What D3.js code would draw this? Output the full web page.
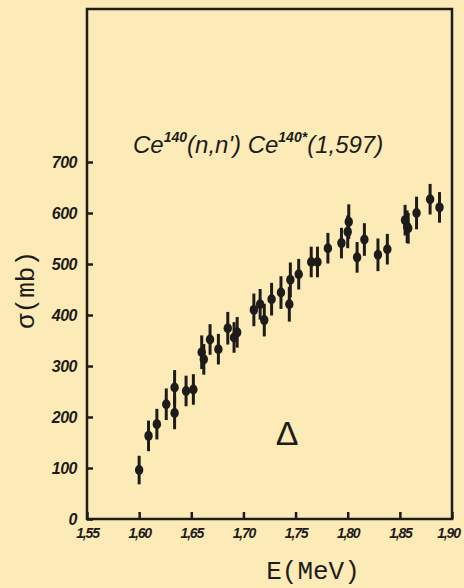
<!DOCTYPE html>
<html>
<head>
<meta charset="utf-8">
<script src="https://cdn.jsdelivr.net/npm/d3@7"></script>
<style>
  body { margin: 0; background: #fcebb6; }
  svg { display: block; }
</style>
</head>
<body>
<div id="chart"></div>
<script>
// Ce140(n,n') excitation data
const energy = [1.600, 1.609, 1.617, 1.626, 1.634, 1.634, 1.645, 1.652, 1.660, 1.662,
  1.668, 1.676, 1.685, 1.691, 1.694, 1.710, 1.716, 1.720, 1.727, 1.736,
  1.744, 1.745, 1.753, 1.765, 1.771, 1.781, 1.794, 1.800, 1.801, 1.809,
  1.816, 1.829, 1.838, 1.855, 1.857, 1.858, 1.866, 1.879, 1.888];
const sigma = [96, 163, 186, 225, 258, 208, 251, 254, 327, 313,
  352, 333, 374, 356, 366, 410, 421, 390, 431, 444,
  421, 469, 480, 504, 504, 531, 541, 563, 583, 513,
  548, 518, 529, 586, 573, 570, 600, 627, 611];
const sigmaErr = [28, 30, 30, 31, 34, 32, 30, 30, 33, 30,
  30, 30, 32, 30, 30, 32, 30, 32, 32, 32,
  34, 34, 30, 30, 30, 30, 30, 32, 34, 30,
  32, 32, 30, 30, 32, 30, 32, 30, 30];

const xTicks = [1.55, 1.60, 1.65, 1.70, 1.75, 1.80, 1.85, 1.90];
const yTicks = [0, 100, 200, 300, 400, 500, 600, 700];

const W = 464, H = 588;
const ink = "#1e1c1a";

const svg = d3.select("#chart")
  .append("svg")
  .attr("width", W)
  .attr("height", H);

svg.append("rect").attr("width", W).attr("height", H).attr("fill", "#fcebb6");

const x = d3.scaleLinear().domain([1.55, 1.90]).range([87, 452]);
const y = d3.scaleLinear().domain([0, 1000]).range([519, 9]);

// frame
svg.append("rect")
  .attr("x", x(1.55)).attr("y", y(1000))
  .attr("width", x(1.90) - x(1.55))
  .attr("height", y(0) - y(1000))
  .attr("fill", "none")
  .attr("stroke", ink)
  .attr("stroke-width", 2.5);

// y axis
const yAxis = svg.append("g")
  .attr("transform", `translate(${x(1.55)},0)`)
  .call(d3.axisLeft(y).tickValues(yTicks).tickSize(-6).tickPadding(10));
yAxis.select(".domain").remove();
yAxis.selectAll(".tick line").attr("stroke", ink).attr("stroke-width", 2.5);
yAxis.selectAll(".tick text")
  .attr("fill", ink)
  .style("font-family", "'Liberation Sans', Arial, sans-serif")
  .style("font-size", "16px")
  .style("font-weight", "bold")
  .style("font-style", "italic")
  .style("letter-spacing", "-0.5px")
  .attr("dy", "0.36em");

// x axis
const xAxis = svg.append("g")
  .attr("transform", `translate(0,${y(0)})`)
  .call(d3.axisBottom(x).tickValues(xTicks)
    .tickFormat(d => d3.format(".2f")(d).replace(".", ","))
    .tickSize(-7).tickPadding(9));
xAxis.select(".domain").remove();
xAxis.selectAll(".tick line").attr("stroke", ink).attr("stroke-width", 2.5);
xAxis.selectAll(".tick text")
  .attr("fill", ink)
  .attr("dx", d => d === 1.90 ? "-4" : "0")
  .style("font-family", "'Liberation Sans', Arial, sans-serif")
  .style("font-size", "14px")
  .style("font-weight", "bold")
  .style("font-style", "italic")
  .style("letter-spacing", "-1.2px");

// data points with error bars
const pts = energy.map((e, i) => ({ e: e, s: sigma[i], err: sigmaErr[i] }));

svg.append("g").selectAll("line")
  .data(pts)
  .enter().append("line")
  .attr("x1", d => x(d.e)).attr("x2", d => x(d.e))
  .attr("y1", d => y(d.s + d.err)).attr("y2", d => y(d.s - d.err))
  .attr("stroke", ink)
  .attr("stroke-width", 3);

svg.append("g").selectAll("ellipse")
  .data(pts)
  .enter().append("ellipse")
  .attr("cx", d => x(d.e)).attr("cy", d => y(d.s))
  .attr("rx", 4.2).attr("ry", 5)
  .attr("fill", ink);

// title
const title = svg.append("text")
  .attr("x", 133).attr("y", 153)
  .attr("fill", ink)
  .style("font-family", "'Liberation Sans', Arial, sans-serif")
  .style("font-size", "24px")
  .style("font-style", "italic");
title.append("tspan").text("Ce");
title.append("tspan").attr("dy", -11).style("font-size", "14px").style("font-weight", "bold").text("140");
title.append("tspan").attr("dy", 11).text("(n,n') Ce");
title.append("tspan").attr("dy", -11).style("font-size", "14px").style("font-weight", "bold").text("140*");
title.append("tspan").attr("dy", 11).text("(1,597)");

// delta marker
svg.append("text")
  .attr("x", 287).attr("y", 445)
  .attr("text-anchor", "middle")
  .attr("fill", ink)
  .style("font-family", "'Liberation Sans', Arial, sans-serif")
  .style("font-size", "34px")
  .text("Δ");

// axis titles
svg.append("text")
  .attr("x", 313).attr("y", 579)
  .attr("text-anchor", "middle")
  .attr("fill", ink)
  .style("font-family", "'Liberation Mono', 'DejaVu Sans Mono', monospace")
  .style("font-size", "26px")
  .text("E(MeV)");

svg.append("text")
  .attr("transform", "translate(34,290) rotate(-90)")
  .attr("text-anchor", "middle")
  .attr("fill", ink)
  .style("font-family", "'Liberation Mono', 'DejaVu Sans Mono', monospace")
  .style("font-size", "26px")
  .text("σ(mb)");
</script>
</body>
</html>
